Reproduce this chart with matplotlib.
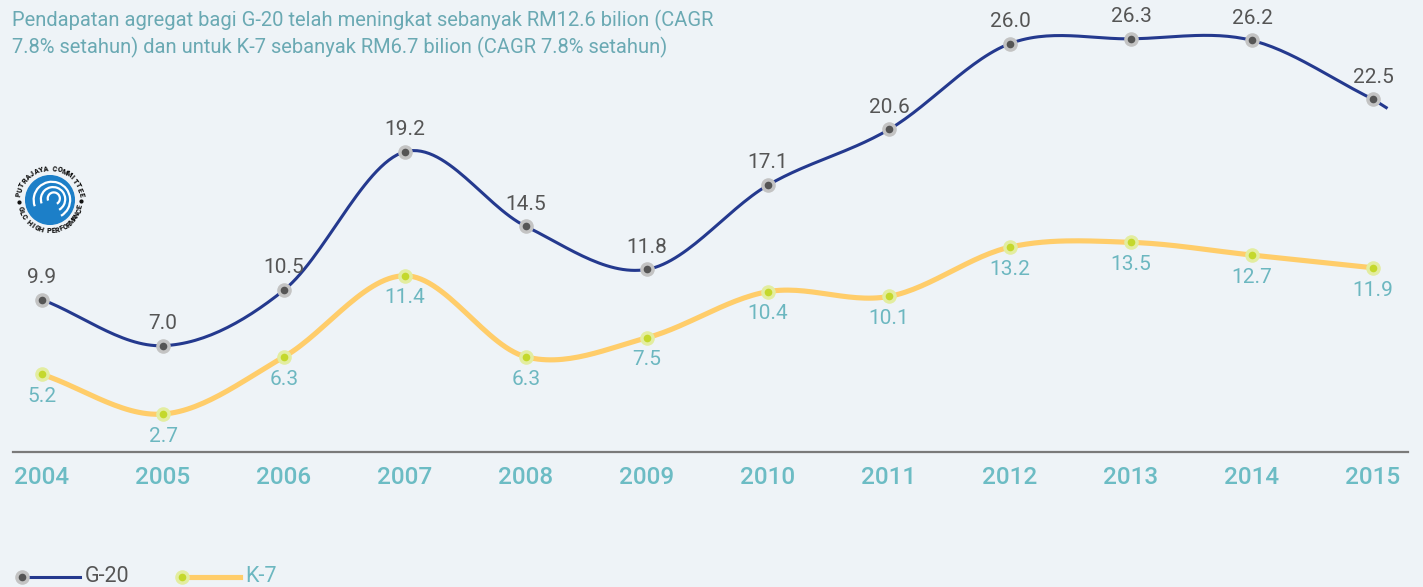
import matplotlib.pyplot as plt
from matplotlib.lines import Line2D
from matplotlib.patches import Circle, Arc
import numpy as np

# data
years = ['2004', '2005', '2006', '2007', '2008', '2009', '2010', '2011', '2012', '2013', '2014', '2015']
g20 = [9.9, 7.0, 10.5, 19.2, 14.5, 11.8, 17.1, 20.6, 26.0, 26.3, 26.2, 22.5]
k7 = [5.2, 2.7, 6.3, 11.4, 6.3, 7.5, 10.4, 10.1, 13.2, 13.5, 12.7, 11.9]
title1 = 'Pendapatan agregat bagi G-20 telah meningkat sebanyak RM12.6 bilion (CAGR'
title2 = '7.8% setahun) dan untuk K-7 sebanyak RM6.7 bilion (CAGR 7.8% setahun)'

BG = '#eef3f7'
NAVY = '#24398e'
YELLOW = '#ffcd6a'
TEAL = '#6cb7c0'
GREY = '#555555'

plt.rcParams['font.family'] = ['Roboto', 'DejaVu Sans']

W, H = 1423, 587


def smooth(y, n=30, extend=0.0):
    # catmull-rom through the points, so the line bends like the original
    y = np.asarray(y, float)
    m = np.gradient(y)
    xs, ys = [], []
    for i in range(len(y) - 1):
        t = np.linspace(0, 1, n, endpoint=False)
        h00 = 2*t**3 - 3*t**2 + 1
        h10 = t**3 - 2*t**2 + t
        h01 = -2*t**3 + 3*t**2
        h11 = t**3 - t**2
        xs.append(i + t)
        ys.append(h00*y[i] + h10*m[i] + h01*y[i+1] + h11*m[i+1])
    xs.append([len(y) - 1])
    ys.append([y[-1]])
    if extend:
        xs.append([len(y) - 1 + extend])
        ys.append([y[-1] + m[-1]*extend*1.3])
    return np.concatenate(xs), np.concatenate(ys)


fig = plt.figure(figsize=(W/100, H/100), dpi=100, facecolor=BG)
ax = fig.add_axes([0, 0, 1, 1])
ax.set_facecolor(BG)
ax.axis('off')

# pixel mapping: index 0 -> x=42px, step 121px ; value 0 -> y=457px, 15.9px per unit
x0, step = 42, 121
ax.set_xlim(-x0/step, (W - x0)/step)
ax.set_ylim((457 - H)/15.9, 457/15.9)

x = np.arange(len(years))

gx, gy = smooth(g20, extend=0.12)
kx, ky = smooth(k7)
ax.plot(kx, ky, color=YELLOW, lw=3.7, solid_capstyle='butt', zorder=2)
ax.plot(gx, gy, color=NAVY, lw=2.2, solid_capstyle='butt', zorder=2)

ax.plot(x, g20, 'o', ms=10.5, color='#c3c3c3', mec='none', zorder=3)
ax.plot(x, g20, 'o', ms=5.5, color='#555555', mec='none', zorder=4)
ax.plot(x, k7, 'o', ms=10.5, color='#e3eda0', mec='none', zorder=3)
ax.plot(x, k7, 'o', ms=5.5, color='#c4d82c', mec='none', zorder=4)

for i in range(len(years)):
    ax.annotate(f'{g20[i]:.1f}', (x[i], g20[i]), xytext=(0, 16), textcoords='offset points',
                ha='center', va='center', fontsize=15, color=GREY)
    ax.annotate(f'{k7[i]:.1f}', (x[i], k7[i]), xytext=(0, -16), textcoords='offset points',
                ha='center', va='center', fontsize=15, color=TEAL)
    ax.text(x[i], (457 - 477)/15.9, years[i], ha='center', va='center',
            fontsize=17.5, fontweight='medium', color='#6cbcc4')

# baseline
fig.add_artist(Line2D([13/W, 1408/W], [(H - 452)/H]*2, color='#7a7a7a', lw=1.6))

# title
fig.text(12/W, 1 - 20/H, title1, ha='left', va='center', fontsize=14.5, color='#6aa9b3')
fig.text(12/W, 1 - 47/H, title2, ha='left', va='center', fontsize=14.5, color='#6aa9b3')

# legend
ly = (H - 577)/H
fig.add_artist(Line2D([28/W, 80/W], [ly, ly], color=NAVY, lw=2.2))
fig.add_artist(Line2D([22/W], [ly], marker='o', ms=10.5, color='#c3c3c3', mec='none'))
fig.add_artist(Line2D([22/W], [ly], marker='o', ms=5.5, color='#555555', mec='none'))
fig.text(85/W, ly, 'G-20', ha='left', va='center', fontsize=15.5, color=GREY)
fig.add_artist(Line2D([188/W, 240/W], [ly, ly], color=YELLOW, lw=3.7))
fig.add_artist(Line2D([182/W], [ly], marker='o', ms=10.5, color='#e3eda0', mec='none'))
fig.add_artist(Line2D([182/W], [ly], marker='o', ms=5.5, color='#c4d82c', mec='none'))
fig.text(245/W, ly, 'K-7', ha='left', va='center', fontsize=15.5, color=TEAL)

# logo
lax = fig.add_axes([(50 - 38)/W, (H - 200 - 38)/H, 76/W, 76/H])
lax.set_xlim(-1, 1)
lax.set_ylim(-1, 1)
lax.set_aspect('equal')
lax.axis('off')
lax.add_patch(Circle((0, 0), 0.64, color='#1c7fc8'))
for r, c in [(0.48, (0.05, 0.0)), (0.32, (0.08, 0.02)), (0.16, (0.1, 0.04))]:
    lax.add_patch(Arc(c, 2*r, 2*r, theta1=-60, theta2=200, color='white', lw=1.6))
top = 'PUTRAJAYA COMMITTEE'
ang = np.linspace(170, 10, len(top))
for ch, a in zip(top, ang):
    t = np.radians(a)
    lax.text(0.82*np.cos(t), 0.82*np.sin(t), ch, rotation=a - 90, ha='center', va='center',
             fontsize=5.2, fontweight='heavy', color='#111111')
bot = 'GLC HIGH PERFORMANCE'
ang = np.linspace(196, 348, len(bot))
for ch, a in zip(bot, ang):
    t = np.radians(a)
    lax.text(0.82*np.cos(t), 0.82*np.sin(t), ch, rotation=a + 90, ha='center', va='center',
             fontsize=5.2, fontweight='heavy', color='#111111')
for a in (183, 359):
    t = np.radians(a)
    lax.plot(0.82*np.cos(t), 0.82*np.sin(t), 'o', ms=2, color='#111111')

fig.savefig('out.png', dpi=100, facecolor=BG)
